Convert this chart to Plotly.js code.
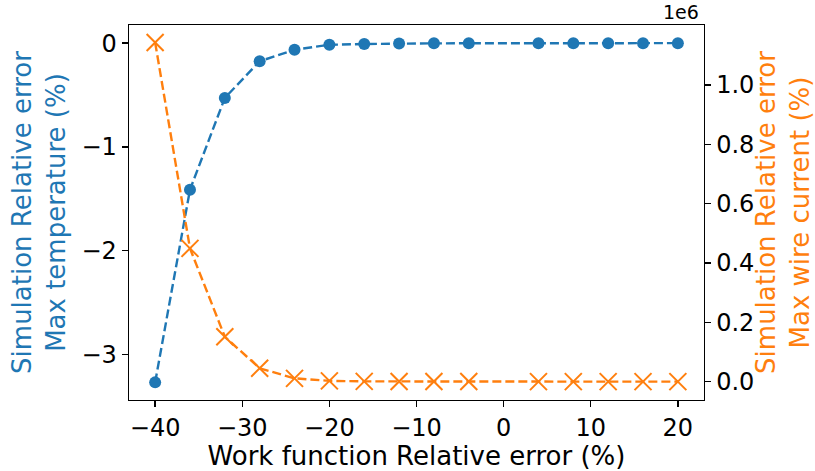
<!DOCTYPE html>
<html>
<head>
<meta charset="utf-8">
<script src="https://cdn.plot.ly/plotly-3.0.1.min.js"></script>
<style>
  html, body { margin: 0; padding: 0; background: #fff; }
  #chart { width: 815px; height: 471px; }
</style>
</head>
<body>
<div id="chart"></div>
<script>
// Work-function relative error (%) applied in each simulation run
const workFunctionError = [-40, -36, -32, -28, -24, -20, -16, -12, -8, -4, 4, 8, 12, 16, 20];

// Resulting relative error of the maximum temperature (%)
const maxTemperatureError = [-3.27, -1.413, -0.528, -0.175, -0.063, -0.016, -0.008, -0.003, -0.002, -0.001, 0, 0, 0, 0, 0];

// Resulting relative error of the maximum wire current (%)
const maxWireCurrentError = [1143000, 449000, 151000, 45000, 11000, 2500, 800, 300, 150, 80, 20, 10, 5, 3, 2];

// Right-axis tick positions and their labels (scaled by 1e6)
const currentTickValues = [0, 200000, 400000, 600000, 800000, 1000000];
const currentTickLabels = ['0.0', '0.2', '0.4', '0.6', '0.8', '1.0'];

const blue = '#1f77b4';
const orange = '#ff7f0e';
const fontFamily = 'DejaVu Sans, sans-serif';

const traces = [
  {
    x: workFunctionError,
    y: maxTemperatureError,
    type: 'scatter',
    mode: 'lines+markers',
    yaxis: 'y',
    line: { color: blue, width: 2.4, dash: '9px,4px' },
    marker: { color: blue, size: 12, symbol: 'circle' },
    showlegend: false
  },
  {
    x: workFunctionError,
    y: maxWireCurrentError,
    type: 'scatter',
    mode: 'lines+markers',
    yaxis: 'y2',
    line: { color: orange, width: 2.4, dash: '9px,4px' },
    marker: { color: orange, size: 17, symbol: 'x-thin', line: { color: orange, width: 2 } },
    showlegend: false
  }
];

const axisCommon = {
  showgrid: false,
  zeroline: false,
  showline: true,
  linecolor: '#000',
  linewidth: 1.4,
  ticks: 'outside',
  ticklen: 6,
  tickwidth: 1.4,
  tickcolor: '#000',
  tickfont: { family: fontFamily, size: 24, color: '#000' }
};

const layout = {
  width: 815,
  height: 471,
  margin: { l: 129, r: 111, t: 25, b: 71 },
  paper_bgcolor: '#fff',
  plot_bgcolor: '#fff',
  font: { family: fontFamily },
  xaxis: Object.assign({}, axisCommon, {
    range: [-43, 23],
    tickvals: [-40, -30, -20, -10, 0, 10, 20],
    mirror: true,
    title: { text: 'Work function Relative error (%)', font: { family: fontFamily, size: 26, color: '#000' }, standoff: 6 }
  }),
  yaxis: Object.assign({}, axisCommon, {
    range: [-3.44, 0.175],
    tickvals: [-3, -2, -1, 0],
    title: { text: 'Simulation Relative error<br>Max temperature (%)', font: { family: fontFamily, size: 26, color: blue }, standoff: 8 }
  }),
  yaxis2: Object.assign({}, axisCommon, {
    overlaying: 'y',
    side: 'right',
    range: [-62000, 1202000],
    tickvals: currentTickValues,
    ticktext: currentTickLabels,
    title: { text: 'Simulation Relative error<br>Max wire current (%)', font: { family: fontFamily, size: 26, color: orange }, standoff: 8 }
  }),
  annotations: [
    {
      text: '1e6',
      xref: 'paper', yref: 'paper',
      x: 1, y: 1,
      xanchor: 'right', yanchor: 'bottom',
      showarrow: false,
      font: { family: fontFamily, size: 19, color: '#000' },
      xshift: -3, yshift: 0
    }
  ]
};

Plotly.newPlot('chart', traces, layout, { staticPlot: true, displayModeBar: false });
</script>
</body>
</html>
